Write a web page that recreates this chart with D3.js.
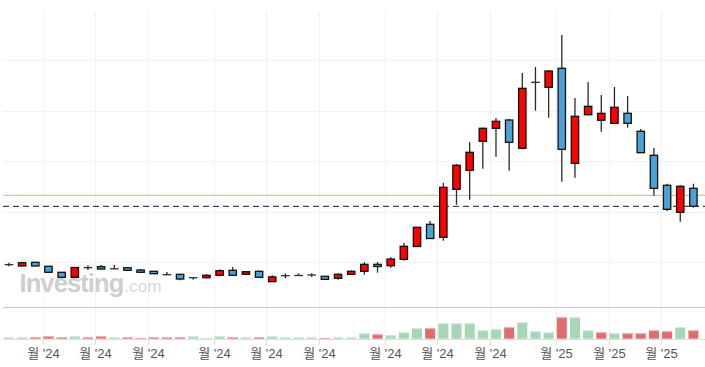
<!DOCTYPE html>
<html><head><meta charset="utf-8">
<script src="https://cdn.jsdelivr.net/npm/d3@7"></script>
<style>html,body{margin:0;padding:0;background:#fff;overflow:hidden}svg{display:block}</style>
</head><body><svg id="c" width="705" height="367"></svg>
<script>
// weekly candles (index 0..52)
const openP  = [9530,9270,10000,9210,8020,7030,8930,9130,8710,8930,8480,8220,7540,7620,6950,6950,7430,8420,7620,8220,6160,7350,7390,7490,7230,6830,7620,8220,9600,9330,10590,13130,17520,14950,24450,28220,33960,36530,38180,32570,45640,44650,48410,29600,39220,38120,37520,39500,35940,31190,25250,19900,24650];
const highP  = [9920,10000,10060,9270,8080,9070,9410,9470,9470,9010,8670,8280,8080,7680,6950,7620,8610,9070,8220,8340,7430,7820,7820,7820,7290,7820,8420,10060,10060,10990,13820,16990,18180,25700,29460,33820,36690,38570,38370,47480,48670,48020,55010,42530,45700,43130,44710,42930,36390,32630,25560,25250,25560];
const lowP   = [9210,9210,9210,7940,6950,6950,8480,8610,8710,8340,7940,7680,7540,6440,6550,6830,7350,7350,7540,6950,6100,6830,7390,7090,6550,6550,7540,7540,7940,8930,10320,13030,14670,14280,21400,22400,28530,30910,28140,32530,40020,38630,25960,26750,39110,35860,37480,36650,31640,23190,20160,18040,20810];
const closeP = [9530,9920,9270,8020,7030,8970,8930,8670,8710,8420,8020,7740,7540,6690,6950,7430,8340,7430,8140,7030,7110,7350,7390,7490,6630,7620,8220,9600,9170,10650,13170,16930,14710,24850,29210,31780,36530,37920,33760,44450,45640,47880,32370,38910,40890,39500,40690,37520,31700,24650,20490,25050,21090];
const volume = [170,170,170,270,170,270,170,270,170,170,70,170,170,170,270,70,270,170,170,170,270,170,170,170,70,170,170,540,470,370,670,1070,1070,1570,1570,1570,870,970,1170,1670,770,670,2170,2170,870,670,570,570,570,870,770,1170,870];
// month ticks: candle index where each month starts, and their labels
const monthStart = [3,7,11,16,20,24,29,33,37,42,46,50];
const monthLabel = ["월 '24","월 '24","월 '24","월 '24","월 '24","월 '24","월 '24","월 '24","월 '24","월 '25","월 '25","월 '25"];
const priceGrid = [10000,20000,30000,40000,50000];
const refLevel = 23270;

const svg = d3.select("#c");
const W = 705;
const n = closeP.length;
const x = d3.scaleLinear().domain([-0.5, n - 0.5]).range([2.4, 700]);
const step = x(1) - x(0);
const y = d3.scaleLinear().domain([1150, 59760]).range([307, 11]);
const yv = d3.scaleLinear().domain([0, 3170]).range([338.7, 307]);
const left = 3;

// vertical grid
const gx = monthStart.map(i => Math.round(x(i - 0.45)) + 0.5);
svg.append("g").selectAll("line").data(gx).join("line")
  .attr("x1", d => d).attr("x2", d => d).attr("y1", 11).attr("y2", 339)
  .attr("stroke", "#f2f2f2").attr("stroke-width", 1);
// horizontal grid
svg.append("g").selectAll("line").data(priceGrid).join("line")
  .attr("x1", left).attr("x2", W)
  .attr("y1", d => Math.round(y(d)) + 0.5).attr("y2", d => Math.round(y(d)) + 0.5)
  .attr("stroke", "#f2f2f2").attr("stroke-width", 1);

// watermark
const wm = svg.append("text").attr("x", 19.5).attr("y", 291.7)
  .attr("font-family", "Arial, 'Liberation Sans', sans-serif");
wm.append("tspan").attr("font-weight", "bold").attr("font-size", 25.5)
  .attr("fill", "#cecece").attr("letter-spacing", "-0.9").text("Investing");
wm.append("tspan").attr("font-size", 17.2).attr("fill", "#d8d8d8").attr("dx", 1).text(".com");

// reference line and last close dashed line
svg.append("line").attr("x1", left).attr("x2", W)
  .attr("y1", y(refLevel)).attr("y2", y(refLevel))
  .attr("stroke", "#f3b6ae").attr("stroke-width", 1.2);
svg.append("line").attr("x1", left).attr("x2", W)
  .attr("y1", y(closeP[n-1])).attr("y2", y(closeP[n-1]))
  .attr("stroke", "#444").attr("stroke-width", 1.3).attr("stroke-dasharray", "6,4");

// separator and axis
svg.append("line").attr("x1", left).attr("x2", W).attr("y1", 307.5).attr("y2", 307.5)
  .attr("stroke", "#c9c9c9").attr("stroke-width", 1);
svg.append("line").attr("x1", left).attr("x2", W).attr("y1", 339.5).attr("y2", 339.5)
  .attr("stroke", "#dcdcdc").attr("stroke-width", 1);
svg.append("g").selectAll("line").data(gx).join("line")
  .attr("x1", d => d).attr("x2", d => d).attr("y1", 339).attr("y2", 345)
  .attr("stroke", "#dcdcdc").attr("stroke-width", 1);
svg.append("g").selectAll("text").data(monthStart).join("text")
  .attr("x", (d, i) => gx[i]).attr("y", 358)
  .attr("text-anchor", "middle")
  .attr("font-family", "Arial, 'Liberation Sans', 'Noto Sans CJK KR', sans-serif")
  .attr("font-size", 13).attr("fill", "#555")
  .text((d, i) => monthLabel[i]);

// volume bars
const data = closeP.map((c, i) => ({i, o: openP[i], h: highP[i], l: lowP[i], c, v: volume[i],
  upVol: i === 0 ? true : c >= closeP[i-1]}));
const vw = step * 0.76;
const vg = svg.append("g");
vg.selectAll("rect.v").data(data).join("rect").attr("class", "v")
  .attr("x", d => x(d.i) - vw/2).attr("width", vw)
  .attr("y", d => yv(d.v)).attr("height", d => yv(0) - yv(d.v))
  .attr("fill", d => d.upVol ? "#a5d6b6" : "#e06d6d");
vg.selectAll("rect.cap").data(data).join("rect").attr("class", "cap")
  .attr("x", d => x(d.i) - vw/2).attr("width", vw)
  .attr("y", d => yv(d.v)).attr("height", d => Math.min(1.2, yv(0) - yv(d.v)))
  .attr("fill", d => d.upVol ? "#d2ecdc" : "#f2b1b1");

// candles
const bw = step * 0.56;
const cg = svg.append("g");
cg.selectAll("line.w").data(data).join("line").attr("class", "w")
  .attr("x1", d => x(d.i)).attr("x2", d => x(d.i))
  .attr("y1", d => y(d.h)).attr("y2", d => y(d.l))
  .attr("stroke", "#2b2b2b").attr("stroke-width", 1.3);
cg.selectAll("g.c").data(data).join(enter => {
  const g = enter.append("g").attr("class", "c");
  g.each(function(d) {
    const sel = d3.select(this);
    const top = y(Math.max(d.o, d.c)), bot = y(Math.min(d.o, d.c));
    if (bot - top < 1) {
      sel.append("line").attr("x1", x(d.i) - bw/2 - 0.6).attr("x2", x(d.i) + bw/2 + 0.6)
        .attr("y1", (top + bot)/2).attr("y2", (top + bot)/2)
        .attr("stroke", "#2b2b2b").attr("stroke-width", 1.3);
    } else {
      sel.append("rect").attr("x", x(d.i) - bw/2).attr("width", bw)
        .attr("y", top).attr("height", bot - top)
        .attr("fill", d.c > d.o ? "#ff0000" : "#4ba1d8")
        .attr("stroke", "#111").attr("stroke-width", 1.3);
    }
  });
  return g;
});
</script>
</body></html>
